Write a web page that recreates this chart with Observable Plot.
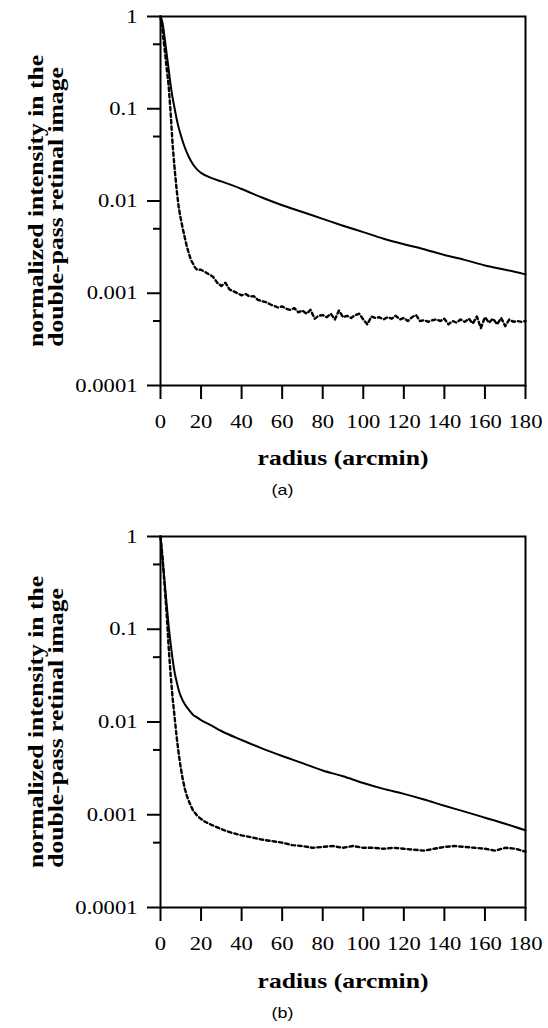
<!DOCTYPE html>
<html><head><meta charset="utf-8">
<script src="https://cdn.jsdelivr.net/npm/d3@7"></script>
<script src="https://cdn.jsdelivr.net/npm/@observablehq/plot@0.6"></script>
<style>
html,body{margin:0;padding:0;background:#fff;}
#chart svg{display:block;}
</style></head><body><div id="chart"></div>
<script>
// ---- tick labels / text ----
const yTicks = [1, 0.1, 0.01, 0.001, 0.0001];
const yTickLabels = ["1", "0.1", "0.01", "0.001", "0.0001"];
const yMinorTicks = [0.5, 0.05, 0.005, 0.0005];
const xTicks = [0, 20, 40, 60, 80, 100, 120, 140, 160, 180];
const xLabel = "radius (arcmin)";
const yLabelLines = ["normalized intensity in the", "double-pass retinal image"];
const panelLabels = ["(a)", "(b)"];

// ---- panel (a) ----
const aSolidX = [0,1,2,3,4,5,6,7,8,9,10,12,14,16,18,20,25,30,40,50,60,70,80,90,100,110,120,130,140,150,160,170,180];
const aSolidY = [1,0.85,0.6,0.4,0.27,0.18,0.13,0.1,0.077,0.062,0.052,0.038,0.03,0.025,0.022,0.0202,0.0178,0.0163,0.0135,0.0109,0.009,0.0076,0.0064,0.0054,0.0046,0.0039,0.0034,0.003,0.0026,0.0023,0.002,0.0018,0.0016];

const aDotX = [0,1,2,3,4,5,6,7,8,9,10,11,12,13,14,15,16,17,18,20,22,24,26,28,30,32,34,36,38,40,42,44,46,48,50,52,54,56,58,60,62,64,66,68,70,72,74,76,78,80,82,84,86,88,90,92,94,96,98,100,102,104,106,108,110,112,114,116,118,120,122,124,126,128,130,132,134,136,138,140,142,144,146,148,150,152,154,156,158,160,162,164,166,168,170,172,174,176,178,180];
const aDotY = [1,0.7,0.45,0.28,0.18,0.09,0.04,0.022,0.013,0.0085,0.0064,0.005,0.004,0.0032,0.0027,0.0023,0.0021,0.0019,0.0018,0.0018,0.0017,0.0016,0.0015,0.0013,0.0012,0.0013,0.0011,0.00105,0.001,0.00095,0.00098,0.00092,0.00093,0.00085,0.00082,0.0008,0.00076,0.00073,0.0007,0.00072,0.00068,0.00066,0.00069,0.00062,0.00065,0.0006,0.00066,0.00053,0.00057,0.00058,0.00055,0.0006,0.00052,0.00065,0.00055,0.00057,0.00054,0.00058,0.0006,0.00052,0.00046,0.00056,0.00054,0.00055,0.00052,0.00055,0.00053,0.00057,0.00052,0.00054,0.0005,0.00055,0.00058,0.0005,0.00051,0.00049,0.00051,0.00052,0.0005,0.00053,0.00046,0.0005,0.00048,0.00052,0.00049,0.00053,0.00047,0.00056,0.00042,0.00055,0.00048,0.00053,0.00046,0.00054,0.00044,0.00052,0.00049,0.0005,0.00049,0.0005];

// ---- panel (b) ----
const bSolidX = [0,1,2,3,4,5,6,7,8,9,10,12,14,16,18,20,25,30,40,50,60,70,80,90,100,110,120,130,140,150,160,170,180];
const bSolidY = [1,0.57,0.33,0.19,0.11,0.07,0.047,0.034,0.027,0.022,0.019,0.0155,0.0135,0.012,0.0112,0.0105,0.0092,0.008,0.0064,0.0052,0.0043,0.0036,0.003,0.0026,0.0022,0.0019,0.00168,0.00146,0.00125,0.00108,0.00093,0.0008,0.00068];

const bDotX = [0,1,2,3,4,5,6,7,8,9,10,11,12,13,14,15,16,18,20,22,25,30,35,40,45,50,55,60,65,70,75,80,85,90,95,100,105,110,115,120,125,130,135,140,145,150,155,160,165,170,175,180];
const bDotY = [1,0.6,0.3,0.15,0.065,0.032,0.018,0.011,0.0068,0.0045,0.0032,0.0024,0.0019,0.0016,0.0014,0.00125,0.00112,0.00098,0.0009,0.00084,0.00078,0.0007,0.00064,0.0006,0.00057,0.00054,0.00052,0.0005,0.00047,0.00046,0.00044,0.00045,0.00046,0.00044,0.00046,0.00044,0.00044,0.00043,0.00044,0.00043,0.00042,0.00041,0.00043,0.00045,0.00046,0.00045,0.00044,0.00043,0.00041,0.00044,0.00043,0.0004];

const zip = (xs, ys) => xs.map((x, i) => ({x, y: ys[i]}));
const SERIF = "'Liberation Serif', 'Times New Roman', serif";

function panel({solid, dotted, top, bottom, label, titleDy, labelDy, labelX}) {
  return Plot.plot({
    width: 548, height: 514,
    marginLeft: 160, marginRight: 23, marginTop: top, marginBottom: bottom,
    style: {fontFamily: SERIF, fontSize: "19px", color: "#000", background: "#fff", overflow: "visible"},
    x: {domain: [0, 180]},
    y: {type: "log", domain: [1e-4, 1]},
    marks: [
      Plot.axisX({ticks: xTicks, tickSize: 14, tickPadding: 15, strokeWidth: 2, label: null, tickFormat: d => String(d)}),
      Plot.axisY({ticks: yTicks, tickSize: 13, tickPadding: 10, strokeWidth: 2, label: null, tickFormat: d => yTickLabels[yTicks.indexOf(d)]}),
      Plot.axisY({ticks: yMinorTicks, tickSize: 7, strokeWidth: 2, label: null, tickFormat: () => ""}),
      Plot.frame({strokeWidth: 2}),
      Plot.line(solid, {x: "x", y: "y", stroke: "#000", strokeWidth: 2, curve: "monotone-x"}),
      Plot.line(dotted, {x: "x", y: "y", stroke: "#000", strokeWidth: 2.4, strokeDasharray: "3.5,3"}),
      Plot.text([yLabelLines[0]], {text: d => d, frameAnchor: "left", textAnchor: "middle", dx: -118, dy: 0, rotate: -90, lineAnchor: "bottom", fontWeight: "bold", fontSize: 21.5, fontFamily: SERIF}),
      Plot.text([yLabelLines[1]], {text: d => d, frameAnchor: "left", textAnchor: "middle", dx: -98, dy: 6, rotate: -90, lineAnchor: "bottom", fontWeight: "bold", fontSize: 21.5, fontFamily: SERIF}),
      Plot.text([xLabel], {text: d => d, frameAnchor: "bottom", textAnchor: "middle", dy: titleDy, lineAnchor: "bottom", fontWeight: "bold", fontSize: 21.5, fontFamily: SERIF}),
      Plot.text([label], {text: d => d, frameAnchor: "bottom-left", textAnchor: "middle", dx: labelX - 160, dy: labelDy, lineAnchor: "middle", fontSize: 15, fontFamily: "'Liberation Sans', Arial, sans-serif"})
    ]
  });
}

const root = document.getElementById("chart");
const pa = panel({solid: zip(aSolidX, aSolidY), dotted: zip(aDotX, aDotY), top: 16, bottom: 129, label: panelLabels[0], titleDy: 79, labelDy: 105, labelX: 282});
const pb = panel({solid: zip(bSolidX, bSolidY), dotted: zip(bDotX, bDotY), top: 22, bottom: 121, label: panelLabels[1], titleDy: 80, labelDy: 106, labelX: 282});
root.appendChild(pa);
root.appendChild(pb);

// the reference typeface is set wider than Liberation Serif: widen glyphs along the text direction,
// re-anchoring each text explicitly so that its centre / end stays where Plot put it
function stretch(svg, factor) {
  svg.querySelectorAll("text").forEach(t => {
    if (!t.textContent) return;
    const len = t.getComputedTextLength();
    if (!(len > 0)) return;
    const anchor = getComputedStyle(t).textAnchor;
    const L = len * factor;
    const x0 = parseFloat(t.getAttribute("x") || "0");
    const shift = anchor === "middle" ? L / 2 : anchor === "end" ? L : 0;
    t.setAttribute("text-anchor", "start");
    t.style.textAnchor = "start";
    t.setAttribute("x", (x0 - shift).toFixed(2));
    t.setAttribute("textLength", L.toFixed(2));
    t.setAttribute("lengthAdjust", "spacingAndGlyphs");
  });
}
stretch(pa, 1.19);
stretch(pb, 1.19);
</script></body></html>
